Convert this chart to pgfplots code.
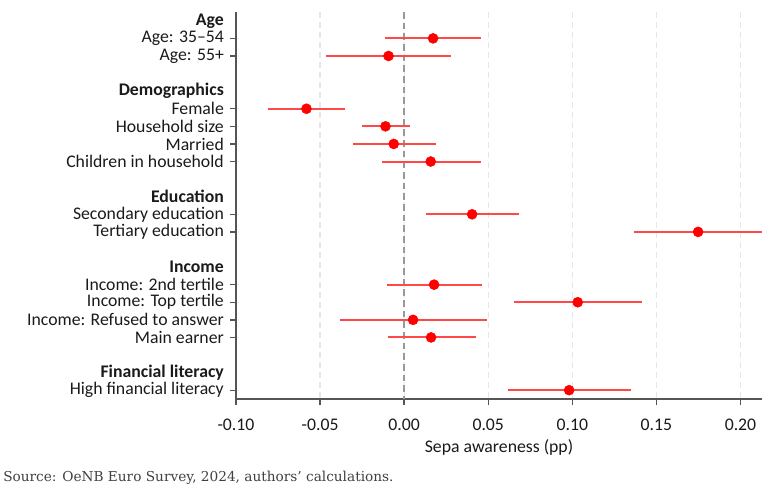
\documentclass[border=0pt]{standalone}
\usepackage{pgfplots}
\pgfplotsset{compat=1.18}
\usepackage{pgfplotstable}
\usepackage{fontspec}
\setmainfont{Carlito}
\newfontfamily\srcfont{DejaVu Serif}
\usetikzlibrary{calc}
\definecolor{axisgray}{HTML}{555555}
\definecolor{gridgray}{HTML}{E6E6E6}
\definecolor{zerogray}{HTML}{999999}
\definecolor{cired}{HTML}{FF4848}
\definecolor{txt}{HTML}{1A1A1A}
\definecolor{srcgray}{HTML}{404040}

\pgfplotstableread{
row est lo hi
1 0.0172 -0.0113 0.0458
2 -0.0093 -0.0464 0.0279
5 -0.0581 -0.0809 -0.0353
6 -0.0111 -0.0248 0.0032
7 -0.0062 -0.0307 0.0190
8 0.0158 -0.0133 0.0454
11 0.0404 0.0128 0.0680
12 0.1748 0.1369 0.2128
15 0.0178 -0.0101 0.0460
16 0.1032 0.0654 0.1415
17 0.0053 -0.0383 0.0493
18 0.0160 -0.0099 0.0426
21 0.0981 0.0618 0.1347
}\coef

\begin{document}
\begin{tikzpicture}
\fontsize{13.3}{15}\selectfont
\begin{axis}[
  name=ax,
  scale only axis,
  width=394.5pt, height=290.25pt,
  xmin=-0.10, xmax=0.2128,
  ymin=-0.5, ymax=21.5,
  y dir=reverse,
  axis x line*=bottom, axis y line*=left,
  axis line style={axisgray, line width=1.2pt},
  tick align=outside,
  major tick length=4.5pt,
  tick style={axisgray, line width=1pt},
  xtick={-0.10,-0.05,0,0.05,0.10,0.15,0.20},
  xticklabels={-0.10,-0.05,0.00,0.05,0.10,0.15,0.20},
  ytick={1,2,5,6,7,8,11,12,15,16,17,18,21},
  yticklabels={Age: 35--54,Age: 55+,Female,Household size,Married,Children in household,Secondary education,Tertiary education,Income: 2nd tertile,Income: Top tertile,Income: Refused to answer,Main earner,High financial literacy},
  extra y ticks={0,4,10,14,20},
  extra y tick labels={\textbf{Age},\textbf{Demographics},\textbf{Education},\textbf{Income},\textbf{Financial literacy}},
  extra y tick style={tick style={draw=none}, ymajorgrids=false},
  xmajorgrids,
  grid style={gridgray, line width=0.9pt, dash pattern=on 4.5pt off 3pt},
  ticklabel style={font=\fontsize{13.3}{15}\selectfont, text=txt},
  xticklabel style={yshift=-5.5pt},
  xlabel={Sepa awareness (pp)},
  xlabel style={font=\fontsize{13.3}{15}\selectfont, text=txt, at={(axis description cs:0.5,0)}, anchor=center, yshift=-36.5pt},
]
\addplot[draw=zerogray, line width=1.6pt, dash pattern=on 5pt off 3pt, forget plot] coordinates {(0,-0.5) (0,21.5)};
\addplot[draw=none, mark=none,
  error bars/.cd, x dir=both, x explicit,
  error mark=none,
  error bar style={cired, line width=1.5pt}]
  table[x=est, y=row, x error plus expr=\thisrow{hi}-\thisrow{est}, x error minus expr=\thisrow{est}-\thisrow{lo}] {\coef};
\addplot[only marks, mark=*, mark size=3.75pt, mark options={fill=red, draw=red}]
  table[x=est, y=row] {\coef};
\end{axis}
\node[anchor=west, inner sep=0pt, text=srcgray, font=\srcfont\fontsize{10.25}{12}\selectfont]
  at ($(ax.south west)+(-174.75pt,-59.25pt)$) {Source: OeNB Euro Survey, 2024, authors’ calculations.};
\pgfresetboundingbox
\path[use as bounding box] ($(ax.south west)+(-177pt,-71.25pt)$) rectangle ($(ax.north east)+(11.25pt,9pt)$);
\end{tikzpicture}
\end{document}
